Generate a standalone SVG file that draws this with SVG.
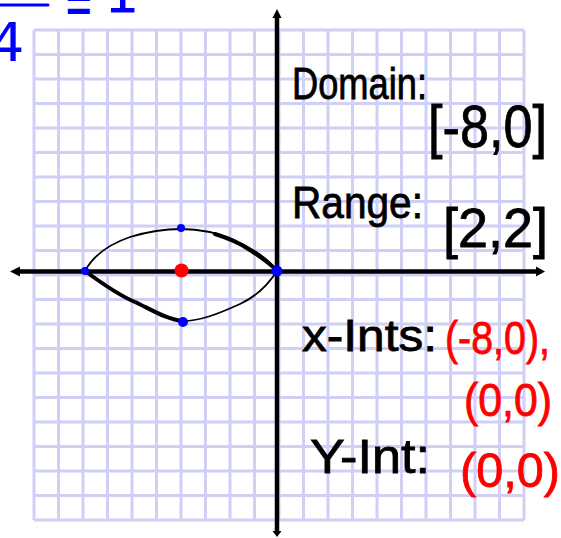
<svg xmlns="http://www.w3.org/2000/svg" width="561" height="538" viewBox="0 0 561 538">
  <style>
    .grid line { stroke: #d0d0f7; stroke-width: 3; }
    .axis { stroke: #000; stroke-width: 4.5; fill: none; }
    .head { fill: #000; }
    .curve { stroke: #000; fill: none; stroke-linecap: round; stroke-linejoin: round; }
    .blue { fill: #0000ff; }
    .red { fill: #ff0000; }
    .lbl { font-family: "Liberation Sans", Arial, sans-serif; fill: #000; stroke: #000; stroke-width: 0.8; }
    .rlbl { font-family: "Liberation Sans", Arial, sans-serif; fill: #ff0000; stroke: #ff0000; stroke-width: 0.8; }
    .eq { font-family: "DejaVu Sans", sans-serif; fill: #0000ff; }
  </style>
  <rect width="561" height="538" fill="#ffffff"/>

  <g id="equation">
    <line x1="0" y1="5" x2="48" y2="5" stroke="#0000ff" stroke-width="3" stroke-linecap="round"/>
    <text class="eq" x="-10" y="61" font-size="54">4</text>
    <text class="eq" transform="translate(64,25) scale(0.55,1)" font-size="64">=</text>
    <text class="eq" x="104" y="12" font-size="56">1</text>
  </g>

  <g id="grid" class="grid">
    <line x1="34" y1="30" x2="34" y2="520"/>
    <line x1="58.5" y1="30" x2="58.5" y2="520"/>
    <line x1="83" y1="30" x2="83" y2="520"/>
    <line x1="107.5" y1="30" x2="107.5" y2="520"/>
    <line x1="132" y1="30" x2="132" y2="520"/>
    <line x1="156.5" y1="30" x2="156.5" y2="520"/>
    <line x1="181" y1="30" x2="181" y2="520"/>
    <line x1="205.5" y1="30" x2="205.5" y2="520"/>
    <line x1="230" y1="30" x2="230" y2="520"/>
    <line x1="254.5" y1="30" x2="254.5" y2="520"/>
    <line x1="279" y1="30" x2="279" y2="520"/>
    <line x1="303.5" y1="30" x2="303.5" y2="520"/>
    <line x1="328" y1="30" x2="328" y2="520"/>
    <line x1="352.5" y1="30" x2="352.5" y2="520"/>
    <line x1="377" y1="30" x2="377" y2="520"/>
    <line x1="401.5" y1="30" x2="401.5" y2="520"/>
    <line x1="426" y1="30" x2="426" y2="520"/>
    <line x1="450.5" y1="30" x2="450.5" y2="520"/>
    <line x1="475" y1="30" x2="475" y2="520"/>
    <line x1="499.5" y1="30" x2="499.5" y2="520"/>
    <line x1="524" y1="30" x2="524" y2="520"/>
    <line x1="34" y1="30" x2="524" y2="30"/>
    <line x1="34" y1="54.5" x2="524" y2="54.5"/>
    <line x1="34" y1="79" x2="524" y2="79"/>
    <line x1="34" y1="103.5" x2="524" y2="103.5"/>
    <line x1="34" y1="128" x2="524" y2="128"/>
    <line x1="34" y1="152.5" x2="524" y2="152.5"/>
    <line x1="34" y1="177" x2="524" y2="177"/>
    <line x1="34" y1="201.5" x2="524" y2="201.5"/>
    <line x1="34" y1="226" x2="524" y2="226"/>
    <line x1="34" y1="250.5" x2="524" y2="250.5"/>
    <line x1="34" y1="275" x2="524" y2="275"/>
    <line x1="34" y1="299.5" x2="524" y2="299.5"/>
    <line x1="34" y1="324" x2="524" y2="324"/>
    <line x1="34" y1="348.5" x2="524" y2="348.5"/>
    <line x1="34" y1="373" x2="524" y2="373"/>
    <line x1="34" y1="397.5" x2="524" y2="397.5"/>
    <line x1="34" y1="422" x2="524" y2="422"/>
    <line x1="34" y1="446.5" x2="524" y2="446.5"/>
    <line x1="34" y1="471" x2="524" y2="471"/>
    <line x1="34" y1="495.5" x2="524" y2="495.5"/>
    <line x1="34" y1="520" x2="524" y2="520"/>
  </g>

  <g id="connectors">
    <line class="axis" x1="18" y1="271.5" x2="538" y2="271.5"/>
    <line class="axis" x1="277" y1="16" x2="277" y2="531"/>
    <polygon class="head" points="10,271.5 20,266.5 20,276.5"/>
    <polygon class="head" points="545,271.5 536,266.5 536,276.5"/>
    <polygon class="head" points="277,9 272.5,18 281.5,18"/>
    <polygon class="head" points="277,537 272.5,531 281.5,531"/>
  </g>

  <g id="ellipse">
    <path class="curve" stroke-width="1.8" d="M85,271 C92,258 104,246 130,237 C150,231 168,229 181,229 C200,229 218,233 233,240 C252,248 268,258 277,271"/>
    <path class="curve" stroke-width="4" d="M215,234 C228,238 240,243 250,250 C262,258 271,264 277,271"/>
    <path class="curve" stroke-width="1.8" d="M85,271 C100,282 118,295 135,302 C152,310 168,320 183,321 C200,321 218,314 240,304 C255,297 268,285 277,271"/>
    <path class="curve" stroke-width="4" d="M85,271 C100,282 118,295 135,302 C152,310 168,320 183,321"/>
  </g>

  <g id="points">
    <circle class="blue" cx="85" cy="271" r="4"/>
    <circle class="blue" cx="277" cy="271" r="5.5"/>
    <circle class="blue" cx="181" cy="228" r="4"/>
    <circle class="blue" cx="183" cy="322" r="5"/>
    <circle class="red" cx="181.5" cy="270.5" r="7"/>
  </g>

  <g id="domain">
    <text class="lbl" x="292" y="99" font-size="44" textLength="135" lengthAdjust="spacingAndGlyphs">Domain:</text>
    <text class="lbl" x="428" y="147" font-size="60" textLength="119" lengthAdjust="spacingAndGlyphs">[-8,0]</text>
  </g>

  <g id="range">
    <text class="lbl" x="292" y="218" font-size="44" textLength="131" lengthAdjust="spacingAndGlyphs">Range:</text>
    <text class="lbl" x="443" y="247" font-size="56" textLength="105" lengthAdjust="spacingAndGlyphs">[2,2]</text>
  </g>

  <g id="x-ints">
    <text class="lbl" x="302" y="351" font-size="44" textLength="135" lengthAdjust="spacingAndGlyphs">x-Ints:</text>
    <text class="rlbl" x="445" y="354" font-size="46" textLength="105" lengthAdjust="spacingAndGlyphs">(-8,0),</text>
    <text class="rlbl" x="464" y="416" font-size="46" textLength="88" lengthAdjust="spacingAndGlyphs">(0,0)</text>
  </g>

  <g id="y-int">
    <text class="lbl" x="310" y="473" font-size="48" textLength="120" lengthAdjust="spacingAndGlyphs">Y-Int:</text>
    <text class="rlbl" x="460" y="487" font-size="48" textLength="100" lengthAdjust="spacingAndGlyphs">(0,0)</text>
  </g>
</svg>
